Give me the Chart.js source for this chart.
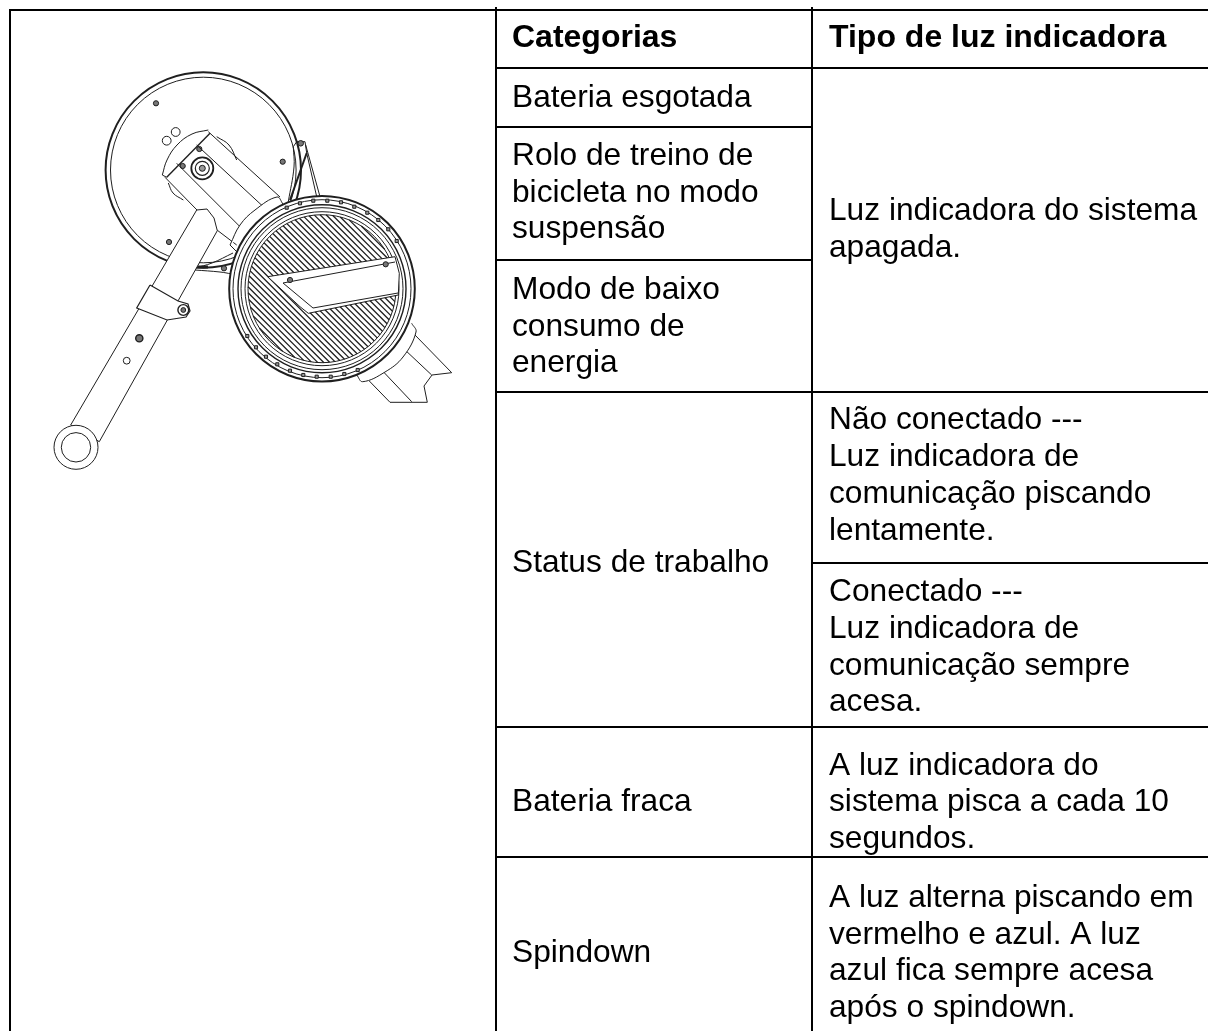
<!DOCTYPE html>
<html lang="pt">
<head>
<meta charset="utf-8">
<title>Categorias e tipo de luz indicadora</title>
<script src="https://cdn.jsdelivr.net/npm/chart.js@4/dist/chart.umd.min.js"></script>
<style>
	html, body { margin: 0; padding: 0; background: #fff; }
	canvas { display: block; }
</style>
</head>
<body>
<canvas id="chart" width="1208" height="1031"></canvas>
<script>
// table text
const headers = ["Categorias", "Tipo de luz indicadora"];
const headerBaselines = [47, 47];
const categoryLines = [
	"Bateria esgotada",
	"Rolo de treino de", "bicicleta no modo", "suspensão",
	"Modo de baixo", "consumo de", "energia",
	"Status de trabalho",
	"Bateria fraca",
	"Spindown",
];
const categoryBaselines = [107, 165, 202, 238, 299, 336, 372, 572, 811, 962];
const lightLines = [
	"Luz indicadora do sistema", "apagada.",
	"Não conectado ---", "Luz indicadora de", "comunicação piscando", "lentamente.",
	"Conectado ---", "Luz indicadora de", "comunicação sempre", "acesa.",
	"A luz indicadora do", "sistema pisca a cada 10", "segundos.",
	"A luz alterna piscando em", "vermelho e azul. A luz", "azul fica sempre acesa", "após o spindown.",
];
const lightBaselines = [220, 257, 429, 466, 503, 540, 601, 638, 675, 711, 775, 811, 848, 907, 944, 980, 1017];
const columnX = [512, 829];

// table rules
const tableRules = [
	[[10, 1031], [10, 10], [1208, 10]],
	[[496, 8], [496, 1031]],
	[[812, 8], [812, 1031]],
	[[496, 68], [1208, 68]],
	[[496, 127], [812, 127]],
	[[496, 260], [812, 260]],
	[[496, 392], [1208, 392]],
	[[812, 563], [1208, 563]],
	[[496, 727], [1208, 727]],
	[[496, 857], [1208, 857]],
];

// trainer drawing, back to front
const backDiscCenter = [[203.3, 170]];
const discBolts = [[156, 103.3], [282.7, 161.7], [169, 242], [224, 268.3], [199.3, 149], [182.7, 166]];
const dialMarks = [[166.7, 140.7], [175.7, 132]];
const bearingCenter = [[202.3, 168.3]];
const bracketTop = [[195, 268], [212, 263], [233, 253]];
const bracketBottom = [[195, 270], [220, 272], [232, 274]];
const bracketBand = [[195, 267], [208, 267]];
const strutFront = [[305.7, 145], [320, 196.7]];
const strutBack = [[306.7, 153], [316.7, 196.7]];
const strutThick = [[306.7, 153], [290, 200]];
const strutPlate = [[293.3, 146.7], [296.7, 141.7], [305, 141.7], [306.7, 153]];
const strutCurve = [[293.3, 146.7], [294, 167], [288.3, 201.7]];
const strutBolt = [[300.7, 143.3]];
const bodyLines = [
	[[208.3, 131.7], [280, 197]],
	[[196.7, 145], [263.3, 206.7]],
	[[176.7, 163.3], [240, 226.7]],
	[[165, 177.3], [197, 210]],
	[[217, 230], [236.7, 245]],
];
const bodyArcs = [
	[[168.3, 183], [173, 193], [183.3, 200]],
	[[216.7, 136.7], [229, 145], [236.7, 160]],
];
const headDome = [[162.3, 175], [167, 160], [177, 145], [192, 134], [208.3, 130]];
const headBand = [[166.7, 177.3], [210, 133.3]];
const headEdge = [[162.3, 175], [166.7, 177.3]];
const leverOutline = [
	[196.7, 210], [207, 209], [214, 218], [217.3, 230.7], [99.3, 441.7], [70.7, 425], [196.7, 210],
];
const clampOutline = [[150, 285], [178, 301], [188, 304], [190, 311], [186, 317], [167, 320], [136.7, 308], [150, 285]];
const clampBoss = [[183.3, 310]];
const leverHoleDark = [[139.3, 338.3]];
const leverHoleOpen = [[126.7, 360.7]];
const leverRing = [[76, 447.3]];
const lowerLegsOutline = [[369.3, 381], [390, 402.3], [427.3, 402.3], [424, 386], [432, 375], [451.7, 372.7], [415, 335]];
const lowerLegLines = [
	[[383.3, 371.7], [411.7, 401.7]],
	[[403.3, 348.3], [431.7, 375]],
];
const collarTop = [[230, 245], [240, 225], [255, 210], [277, 197], [283, 204]];
const collarDivider = [[230, 245], [237, 252]];
const collarBottom = [[356.7, 375], [362.7, 381.7], [385, 372], [403, 357], [416, 332], [411.7, 323.3]];
const frontDiscCenter = [[322, 288.7]];
const ringBoltsTop = [
	[286.7, 207.7], [300, 203.3], [313.3, 200.7], [327.3, 200.7], [341, 202.3],
	[354.3, 206.7], [367.3, 212.7], [378.3, 220], [388.3, 229.3], [396.7, 241],
];
const ringBoltsBottom = [
	[247.3, 336], [256, 347.3], [266, 356.7], [277.3, 364.3], [290, 370.7],
	[303.3, 375], [316.7, 376.7], [330.7, 376.7], [344.3, 374], [357.7, 370],
];
const hatchSegments = [
	[361.3, 226, 384.7, 249.4], [349.2, 219.9, 390.8, 261.5], [340.3, 217, 393.7, 270.4],
	[332.8, 215.5, 395.2, 277.9], [326.1, 214.8, 395.9, 284.6], [320, 214.7, 396, 290.7],
	[314.4, 215.1, 395.6, 296.3], [309.1, 215.8, 394.9, 301.6], [304.2, 216.9, 393.8, 306.5],
	[299.5, 218.2, 392.5, 311.2], [295.1, 219.8, 390.9, 315.6], [290.9, 221.6, 389.1, 319.8],
	[286.9, 223.6, 387.1, 323.8], [283.1, 225.8, 384.9, 327.6], [279.5, 228.2, 382.5, 331.2],
	[276, 230.7, 380, 334.7], [272.8, 233.5, 377.2, 337.9], [269.7, 236.4, 374.3, 341],
	[266.8, 239.5, 371.2, 343.9], [264, 242.7, 368, 346.7], [261.5, 246.2, 364.5, 349.2],
	[259.1, 249.8, 360.9, 351.6], [256.9, 253.6, 357.1, 353.8], [254.9, 257.6, 353.1, 355.8],
	[253.1, 261.8, 348.9, 357.6], [251.5, 266.2, 344.5, 359.2], [250.2, 270.9, 339.8, 360.5],
	[249.1, 275.8, 334.9, 361.6], [248.4, 281.1, 329.6, 362.3], [248, 286.7, 324, 362.7],
	[248.1, 292.8, 317.9, 362.6], [248.8, 299.5, 311.2, 361.9], [250.3, 307, 303.7, 360.4],
	[253.2, 315.9, 294.8, 357.5], [259.3, 328, 282.7, 351.4],
];
const handleOutline = [[267.7, 276.7], [395, 256.7], [399.3, 273.3], [398.3, 295], [308.3, 313.3], [300, 306.7], [267.7, 276.7]];
const handleInnerTop = [[283, 283], [395, 262]];
const handleInnerBottom = [[313, 308], [398, 293]];
const handleInnerDiagonal = [[283, 283], [313, 308]];
const handleBolts = [[290, 280], [385.7, 264.3]];

const INK = "#1f1f1f";
const toPoints = (pts) => pts.map(([x, y]) => ({ x, y }));

// polyline, optionally white filled so it hides what is behind it
const path = (pts, width = 1, extra = {}) => ({
	data: toPoints(pts),
	showLine: true,
	borderColor: INK,
	borderWidth: width,
	pointRadius: 0,
	...extra,
});
const solid = { fill: "shape", backgroundColor: "#fff" };
const smooth = { tension: 0.4 };

// round marks drawn as points, so their radius stays in pixels
const dots = (pts, radius, width = 1, fillColor = "#fff", style = "circle") => ({
	data: toPoints(pts),
	showLine: false,
	pointStyle: style,
	pointRadius: radius,
	pointBorderWidth: width,
	pointBorderColor: INK,
	pointBackgroundColor: fillColor,
});

const joinSegments = (segments) => {
	const out = [];
	segments.forEach((s) => out.push({ x: s[0], y: s[1] }, { x: s[2], y: s[3] }, { x: s[0], y: null }));
	return out;
};

const layers = [
	dots(backDiscCenter, 97.7, 2),
	dots(backDiscCenter, 92.8, 1),
	...discBolts.map((p) => dots([p], 2.6, 1, "#777")),
	...dialMarks.map((p) => dots([p], 4.4, 1)),
	dots(bearingCenter, 11, 1.8),
	dots(bearingCenter, 7, 1.2),
	dots(bearingCenter, 3, 1, "#999"),
	path(bracketTop, 1, smooth),
	path(bracketBottom, 1, smooth),
	path(bracketBand, 3),
	path(strutCurve, 1, smooth),
	path(strutPlate, 1),
	path(strutFront, 1),
	path(strutBack, 1),
	path(strutThick, 2),
	dots(strutBolt, 2.8, 1, "#777"),
	...bodyLines.map((l) => path(l, 1)),
	...bodyArcs.map((a) => path(a, 1, smooth)),
	path(headDome, 1, { ...smooth, ...solid }),
	path(headBand, 1.4),
	path(headEdge, 1),
	path(leverOutline, 1, solid),
	dots(leverRing, 22, 1),
	dots(leverRing, 14.7, 1),
	path(clampOutline, 1.2, solid),
	dots(clampBoss, 5.4, 1.4),
	dots(clampBoss, 2.4, 1, "#777"),
	dots(leverHoleDark, 3.6, 1.4, "#777"),
	dots(leverHoleOpen, 3.4, 1),
	path(lowerLegsOutline, 1, solid),
	...lowerLegLines.map((l) => path(l, 1)),
	path(collarTop, 1, { ...smooth, ...solid }),
	path(collarDivider, 1),
	path(collarBottom, 1, { ...smooth, ...solid }),
	dots(frontDiscCenter, 92.8, 2),
	dots(frontDiscCenter, 89, 1),
	dots(frontDiscCenter, 84, 1.4),
	dots(frontDiscCenter, 81, 1),
	dots(frontDiscCenter, 77, 1),
	dots(frontDiscCenter, 74, 1),
	dots(ringBoltsTop, 2.2, 1, "#999", "rect"),
	dots(ringBoltsBottom, 2.2, 1, "#999", "rect"),
	{ data: joinSegments(hatchSegments), showLine: true, borderColor: INK, borderWidth: 1.3, pointRadius: 0, spanGaps: false },
	path(handleOutline, 1, solid),
	path(handleInnerTop, 1),
	path(handleInnerBottom, 1),
	path(handleInnerDiagonal, 1),
	dots(handleBolts, 2.6, 1, "#777"),
	...tableRules.map((r) => path(r, 2, { borderColor: "#000", borderCapStyle: "square" })),
];

// first layer has to be painted first, chart.js paints high order first
const datasets = layers.map((d, i) => ({ ...d, order: layers.length - i }));

const tableText = {
	id: "tableText",
	afterDatasetsDraw(chart) {
		const { ctx, scales } = chart;
		const put = (text, col, y) => ctx.fillText(text, scales.x.getPixelForValue(columnX[col]), scales.y.getPixelForValue(y));
		ctx.save();
		ctx.fillStyle = "#000";
		ctx.textBaseline = "alphabetic";
		ctx.font = "bold 32px 'Liberation Sans'";
		headers.forEach((t, i) => put(t, i, headerBaselines[i]));
		ctx.font = "31.7px 'Liberation Sans'";
		categoryLines.forEach((t, i) => put(t, 0, categoryBaselines[i]));
		lightLines.forEach((t, i) => put(t, 1, lightBaselines[i]));
		ctx.restore();
	},
};

new Chart(document.querySelector("#chart"), {
	type: "scatter",
	data: { datasets },
	options: {
		responsive: false,
		animation: false,
		events: [],
		layout: { padding: 0, autoPadding: false },
		plugins: {
			legend: { display: false },
			title: { display: false },
			tooltip: { enabled: false },
		},
		scales: {
			x: { type: "linear", min: 0, max: 1208, display: false },
			y: { type: "linear", min: 0, max: 1031, reverse: true, display: false },
		},
	},
	plugins: [tableText],
});
</script>
</body>
</html>
